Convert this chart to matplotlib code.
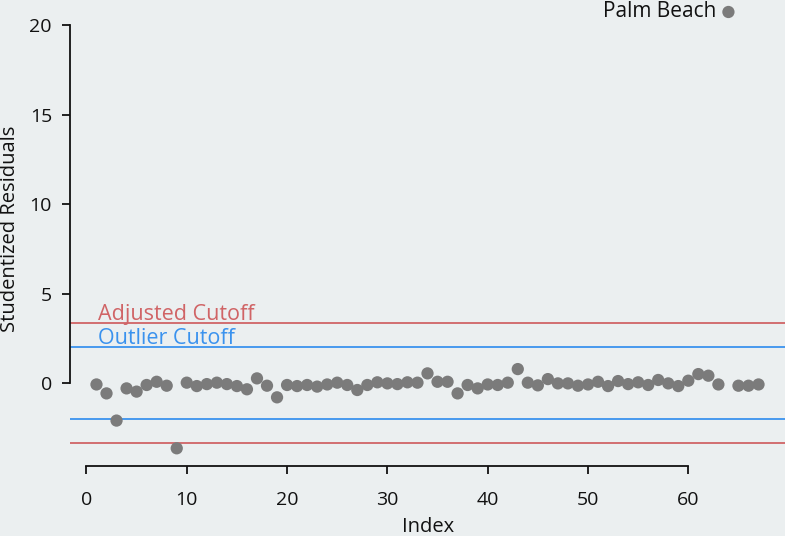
import matplotlib
matplotlib.use("Agg")
import matplotlib.pyplot as plt

# studentized residuals, one per observation (index 1..67)
idx = list(range(1, 68))
resid = [
    -0.08, -0.58, -2.10, -0.30, -0.48, -0.11, 0.07, -0.15, -3.65, 0.02,
    -0.17, -0.06, 0.02, -0.06, -0.17, -0.35, 0.26, -0.15, -0.80, -0.11,
    -0.17, -0.11, -0.20, -0.08, 0.02, -0.11, -0.39, -0.11, 0.04, -0.02,
    -0.06, 0.04, 0.02, 0.54, 0.07, 0.07, -0.58, -0.11, -0.30, -0.08,
    -0.11, 0.02, 0.78, 0.02, -0.13, 0.22, -0.02, -0.02, -0.15, -0.08,
    0.07, -0.17, 0.11, -0.06, 0.04, -0.11, 0.17, -0.02, -0.17, 0.13,
    0.50, 0.41, -0.08, 20.75, -0.15, -0.15, -0.08,
]
outlier_name = "Palm Beach"
outlier_cut = 2.0
adjusted_cut = 3.35

BG = "#ebeff0"
RED = "#d06466"
BLUE = "#3a92ee"
PT = "#7b7b7b"
INK = "#111111"

plt.rcParams["font.family"] = ["Open Sans", "DejaVu Sans"]

W, H = 785, 536
fig = plt.figure(figsize=(W / 100, H / 100), dpi=100, facecolor=BG)

# plot region in pixels: x 70..785, y from -5 (top) to 466 (bottom)
left, right, top, bottom = 70, 785, -5, 466
ax = fig.add_axes([left / W, 1 - bottom / H, (right - left) / W, (bottom - top) / H])
ax.set_facecolor(BG)
ax.set_xlim(-1.64, 69.64)
ax.set_ylim(-4.64, 21.7)

ax.axhline(adjusted_cut, color=RED, lw=1.3)
ax.axhline(-adjusted_cut, color=RED, lw=1.3)
ax.axhline(outlier_cut, color=BLUE, lw=1.3)
ax.axhline(-outlier_cut, color=BLUE, lw=1.3)

ax.scatter(idx, resid, s=78, color=PT, edgecolors="none", zorder=3, clip_on=False)

ax.text(1.2, adjusted_cut + 0.2, "Adjusted Cutoff", color=RED, fontsize=15.5)
ax.text(1.2, outlier_cut + 0.2, "Outlier Cutoff", color=BLUE, fontsize=15.5)

i_out = resid.index(max(resid))
ax.text(idx[i_out] - 1.2, resid[i_out], outlier_name, ha="right", va="center",
        fontsize=15, color=INK)

for side in ("top", "right"):
    ax.spines[side].set_visible(False)
ax.spines["left"].set_bounds(0, 20)
ax.spines["bottom"].set_bounds(0, 60)
for side in ("left", "bottom"):
    ax.spines[side].set_linewidth(1.3)
    ax.spines[side].set_color(INK)

ax.set_xticks(range(0, 61, 10))
ax.set_yticks(range(0, 21, 5))
ax.tick_params(axis="x", length=6, width=1.3, pad=12, labelsize=14, colors=INK)
ax.tick_params(axis="y", length=6, width=1.3, pad=7, labelsize=14, colors=INK)

ax.set_xlabel("Index", fontsize=14.5, color=INK)
ax.set_ylabel("Studentized Residuals", fontsize=14.5, color=INK)
ax.xaxis.set_label_coords((428 - left) / (right - left), -(527 - bottom) / (bottom - top))
ax.yaxis.set_label_coords(-(60 - 0) / (right - left), (bottom - 229) / (bottom - top))
ax.xaxis.label.set_va("center")
ax.yaxis.label.set_va("center")

fig.savefig("out.png", dpi=100, facecolor=BG)
